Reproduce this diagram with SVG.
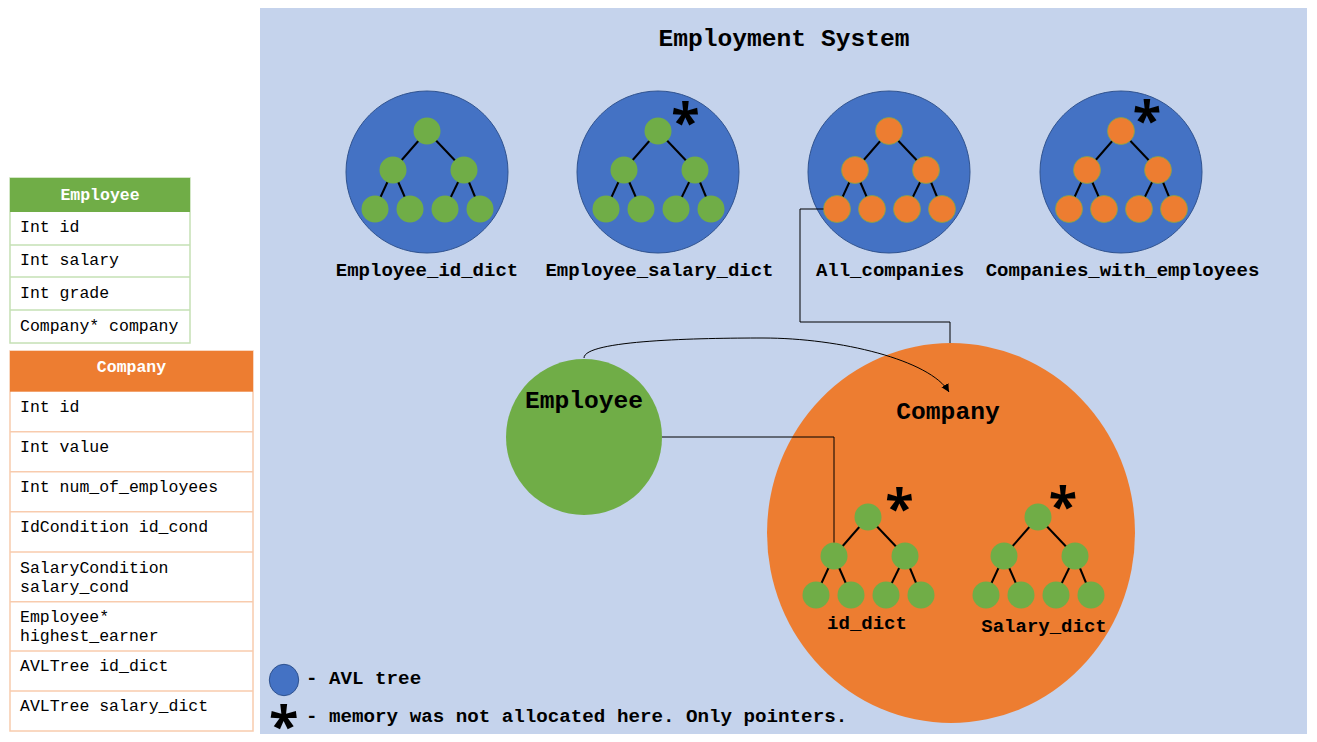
<svg xmlns="http://www.w3.org/2000/svg" xmlns:xlink="http://www.w3.org/1999/xlink" width="1317" height="742" viewBox="0 0 1317 742">
<style>
.mono{font-family:"Liberation Mono","Courier New",monospace;}
.b{font-weight:bold;}
.t16{font-size:16.5px;}
.t19{font-size:19px;}
.t24{font-size:24.6px;}
.lg{font-size:19.2px;}
.star{font-family:"Open Sans","Noto Sans",sans-serif;font-weight:bold;font-size:52px;fill:#000;text-anchor:middle;}
.edge{stroke:#000;stroke-width:2;}
.gn{fill:#70AD47;}
.on{fill:#ED7D31;stroke:#7FA84A;stroke-width:0.8;}
.avl{fill:#4472C4;stroke:#2F528F;stroke-width:1;}
.conn{fill:none;stroke:#000;stroke-width:1;}
.mid{text-anchor:middle;}
</style>
<defs>
<g id="edges">
<line class="edge" x1="0" y1="0" x2="-34" y2="39"/>
<line class="edge" x1="0" y1="0" x2="37" y2="39"/>
<line class="edge" x1="-34" y1="39" x2="-52" y2="78"/>
<line class="edge" x1="-34" y1="39" x2="-17" y2="78"/>
<line class="edge" x1="37" y1="39" x2="18" y2="78"/>
<line class="edge" x1="37" y1="39" x2="53" y2="78"/>
</g>
<g id="greenTree">
<use xlink:href="#edges"/>
<circle class="gn" cx="0" cy="0" r="13.5"/>
<circle class="gn" cx="-34" cy="39" r="13.5"/>
<circle class="gn" cx="37" cy="39" r="13.5"/>
<circle class="gn" cx="-52" cy="78" r="13.5"/>
<circle class="gn" cx="-17" cy="78" r="13.5"/>
<circle class="gn" cx="18" cy="78" r="13.5"/>
<circle class="gn" cx="53" cy="78" r="13.5"/>
</g>
<g id="orangeTree">
<use xlink:href="#edges"/>
<circle class="on" cx="0" cy="0" r="13.5"/>
<circle class="on" cx="-34" cy="39" r="13.5"/>
<circle class="on" cx="37" cy="39" r="13.5"/>
<circle class="on" cx="-52" cy="78" r="13.5"/>
<circle class="on" cx="-17" cy="78" r="13.5"/>
<circle class="on" cx="18" cy="78" r="13.5"/>
<circle class="on" cx="53" cy="78" r="13.5"/>
</g>
<marker id="arr" markerWidth="10" markerHeight="10" refX="8" refY="4" orient="auto" markerUnits="userSpaceOnUse">
<path d="M0,0 L8,4 L0,8 Z" fill="#000"/>
</marker>
</defs>

<rect width="1317" height="742" fill="#FFFFFF"/>

<g id="system-panel">
<rect x="260" y="8" width="1047" height="726" fill="#C5D3EC"/>
<text class="mono b t24 mid" x="784" y="46">Employment System</text>
</g>

<g id="employee-table">
<rect x="10" y="178" width="180" height="165" fill="#FFFFFF" stroke="#C5E0B4" stroke-width="1.5"/>
<rect x="10" y="178" width="180" height="34" fill="#70AD47"/>
<line x1="10" y1="245" x2="190" y2="245" stroke="#C5E0B4" stroke-width="1.5"/>
<line x1="10" y1="277" x2="190" y2="277" stroke="#C5E0B4" stroke-width="1.5"/>
<line x1="10" y1="310" x2="190" y2="310" stroke="#C5E0B4" stroke-width="1.5"/>
<text class="mono b t16 mid" x="100" y="199.5" fill="#FFFFFF">Employee</text>
<text class="mono t16" x="20" y="232">Int id</text>
<text class="mono t16" x="20" y="265">Int salary</text>
<text class="mono t16" x="20" y="297.5">Int grade</text>
<text class="mono t16" x="20" y="330.5">Company* company</text>
</g>

<g id="company-table">
<rect x="10" y="351" width="243" height="380" fill="#FFFFFF" stroke="#F8CBAD" stroke-width="1.5"/>
<rect x="10" y="351" width="243" height="40.7" fill="#ED7D31"/>
<g stroke="#F8CBAD" stroke-width="1.5">
<line x1="10" y1="431.7" x2="253" y2="431.7"/>
<line x1="10" y1="471.7" x2="253" y2="471.7"/>
<line x1="10" y1="511.7" x2="253" y2="511.7"/>
<line x1="10" y1="552" x2="253" y2="552"/>
<line x1="10" y1="601.7" x2="253" y2="601.7"/>
<line x1="10" y1="651" x2="253" y2="651"/>
<line x1="10" y1="691" x2="253" y2="691"/>
</g>
<text class="mono b t16 mid" x="131.5" y="371.7" fill="#FFFFFF">Company</text>
<text class="mono t16" x="20" y="411.5">Int id</text>
<text class="mono t16" x="20" y="451.5">Int value</text>
<text class="mono t16" x="20" y="491.5">Int num_of_employees</text>
<text class="mono t16" x="20" y="531.5">IdCondition id_cond</text>
<text class="mono t16" x="20" y="572.7">SalaryCondition</text>
<text class="mono t16" x="20" y="591.7">salary_cond</text>
<text class="mono t16" x="20" y="621.7">Employee*</text>
<text class="mono t16" x="20" y="641">highest_earner</text>
<text class="mono t16" x="20" y="671">AVLTree id_dict</text>
<text class="mono t16" x="20" y="711">AVLTree salary_dict</text>
</g>

<g id="employee-id-dict">
<circle class="avl" cx="427" cy="172" r="81"/>
<use xlink:href="#greenTree" x="427" y="131"/>
<text class="mono b t19 mid" x="427" y="276">Employee_id_dict</text>
</g>

<g id="employee-salary-dict">
<circle class="avl" cx="658" cy="172" r="81"/>
<use xlink:href="#greenTree" x="658" y="131"/>
<text class="star" x="685.5" y="140.5">*</text>
<text class="mono b t19 mid" x="659.5" y="276">Employee_salary_dict</text>
</g>

<g id="all-companies">
<circle class="avl" cx="889" cy="172" r="81"/>
<use xlink:href="#orangeTree" x="889" y="131"/>
<text class="mono b t19 mid" x="890" y="276">All_companies</text>
</g>

<g id="companies-with-employees">
<circle class="avl" cx="1121" cy="172" r="81"/>
<use xlink:href="#orangeTree" x="1121" y="131"/>
<text class="star" x="1147" y="139">*</text>
<text class="mono b t19 mid" x="1122.5" y="276">Companies_with_employees</text>
</g>

<g id="employee-node">
<circle cx="584" cy="437" r="78" fill="#70AD47"/>
<text class="mono b t24 mid" x="584" y="407.7">Employee</text>
</g>

<g id="company-node">
<ellipse cx="951" cy="533" rx="184" ry="190" fill="#ED7D31"/>
<text class="mono b t24 mid" x="948" y="419">Company</text>
<use xlink:href="#greenTree" x="868" y="517"/>
<text class="star" x="899.5" y="526.5">*</text>
<text class="mono b t19 mid" x="867" y="629.3">id_dict</text>
<use xlink:href="#greenTree" x="1038" y="517"/>
<text class="star" x="1063" y="525">*</text>
<text class="mono b t19 mid" x="1044" y="632.3">Salary_dict</text>
</g>

<g id="connectors">
<path class="conn" d="M584,358 C584,340 700,338 763,338 C840,338 930,360 949,392" marker-end="url(#arr)"/>
<path class="conn" d="M823.5,209 H800 V322 H950 V343"/>
<path class="conn" d="M662,437 H834 V542.5"/>
</g>

<g id="legend">
<ellipse class="avl" cx="284" cy="680" rx="14.7" ry="15.7"/>
<text class="mono b lg" x="306" y="684.3">- AVL tree</text>
<text class="star" x="283.7" y="745" style="font-size:54px">*</text>
<text class="mono b lg" x="306" y="722">- memory was not allocated here. Only pointers.</text>
</g>
</svg>
